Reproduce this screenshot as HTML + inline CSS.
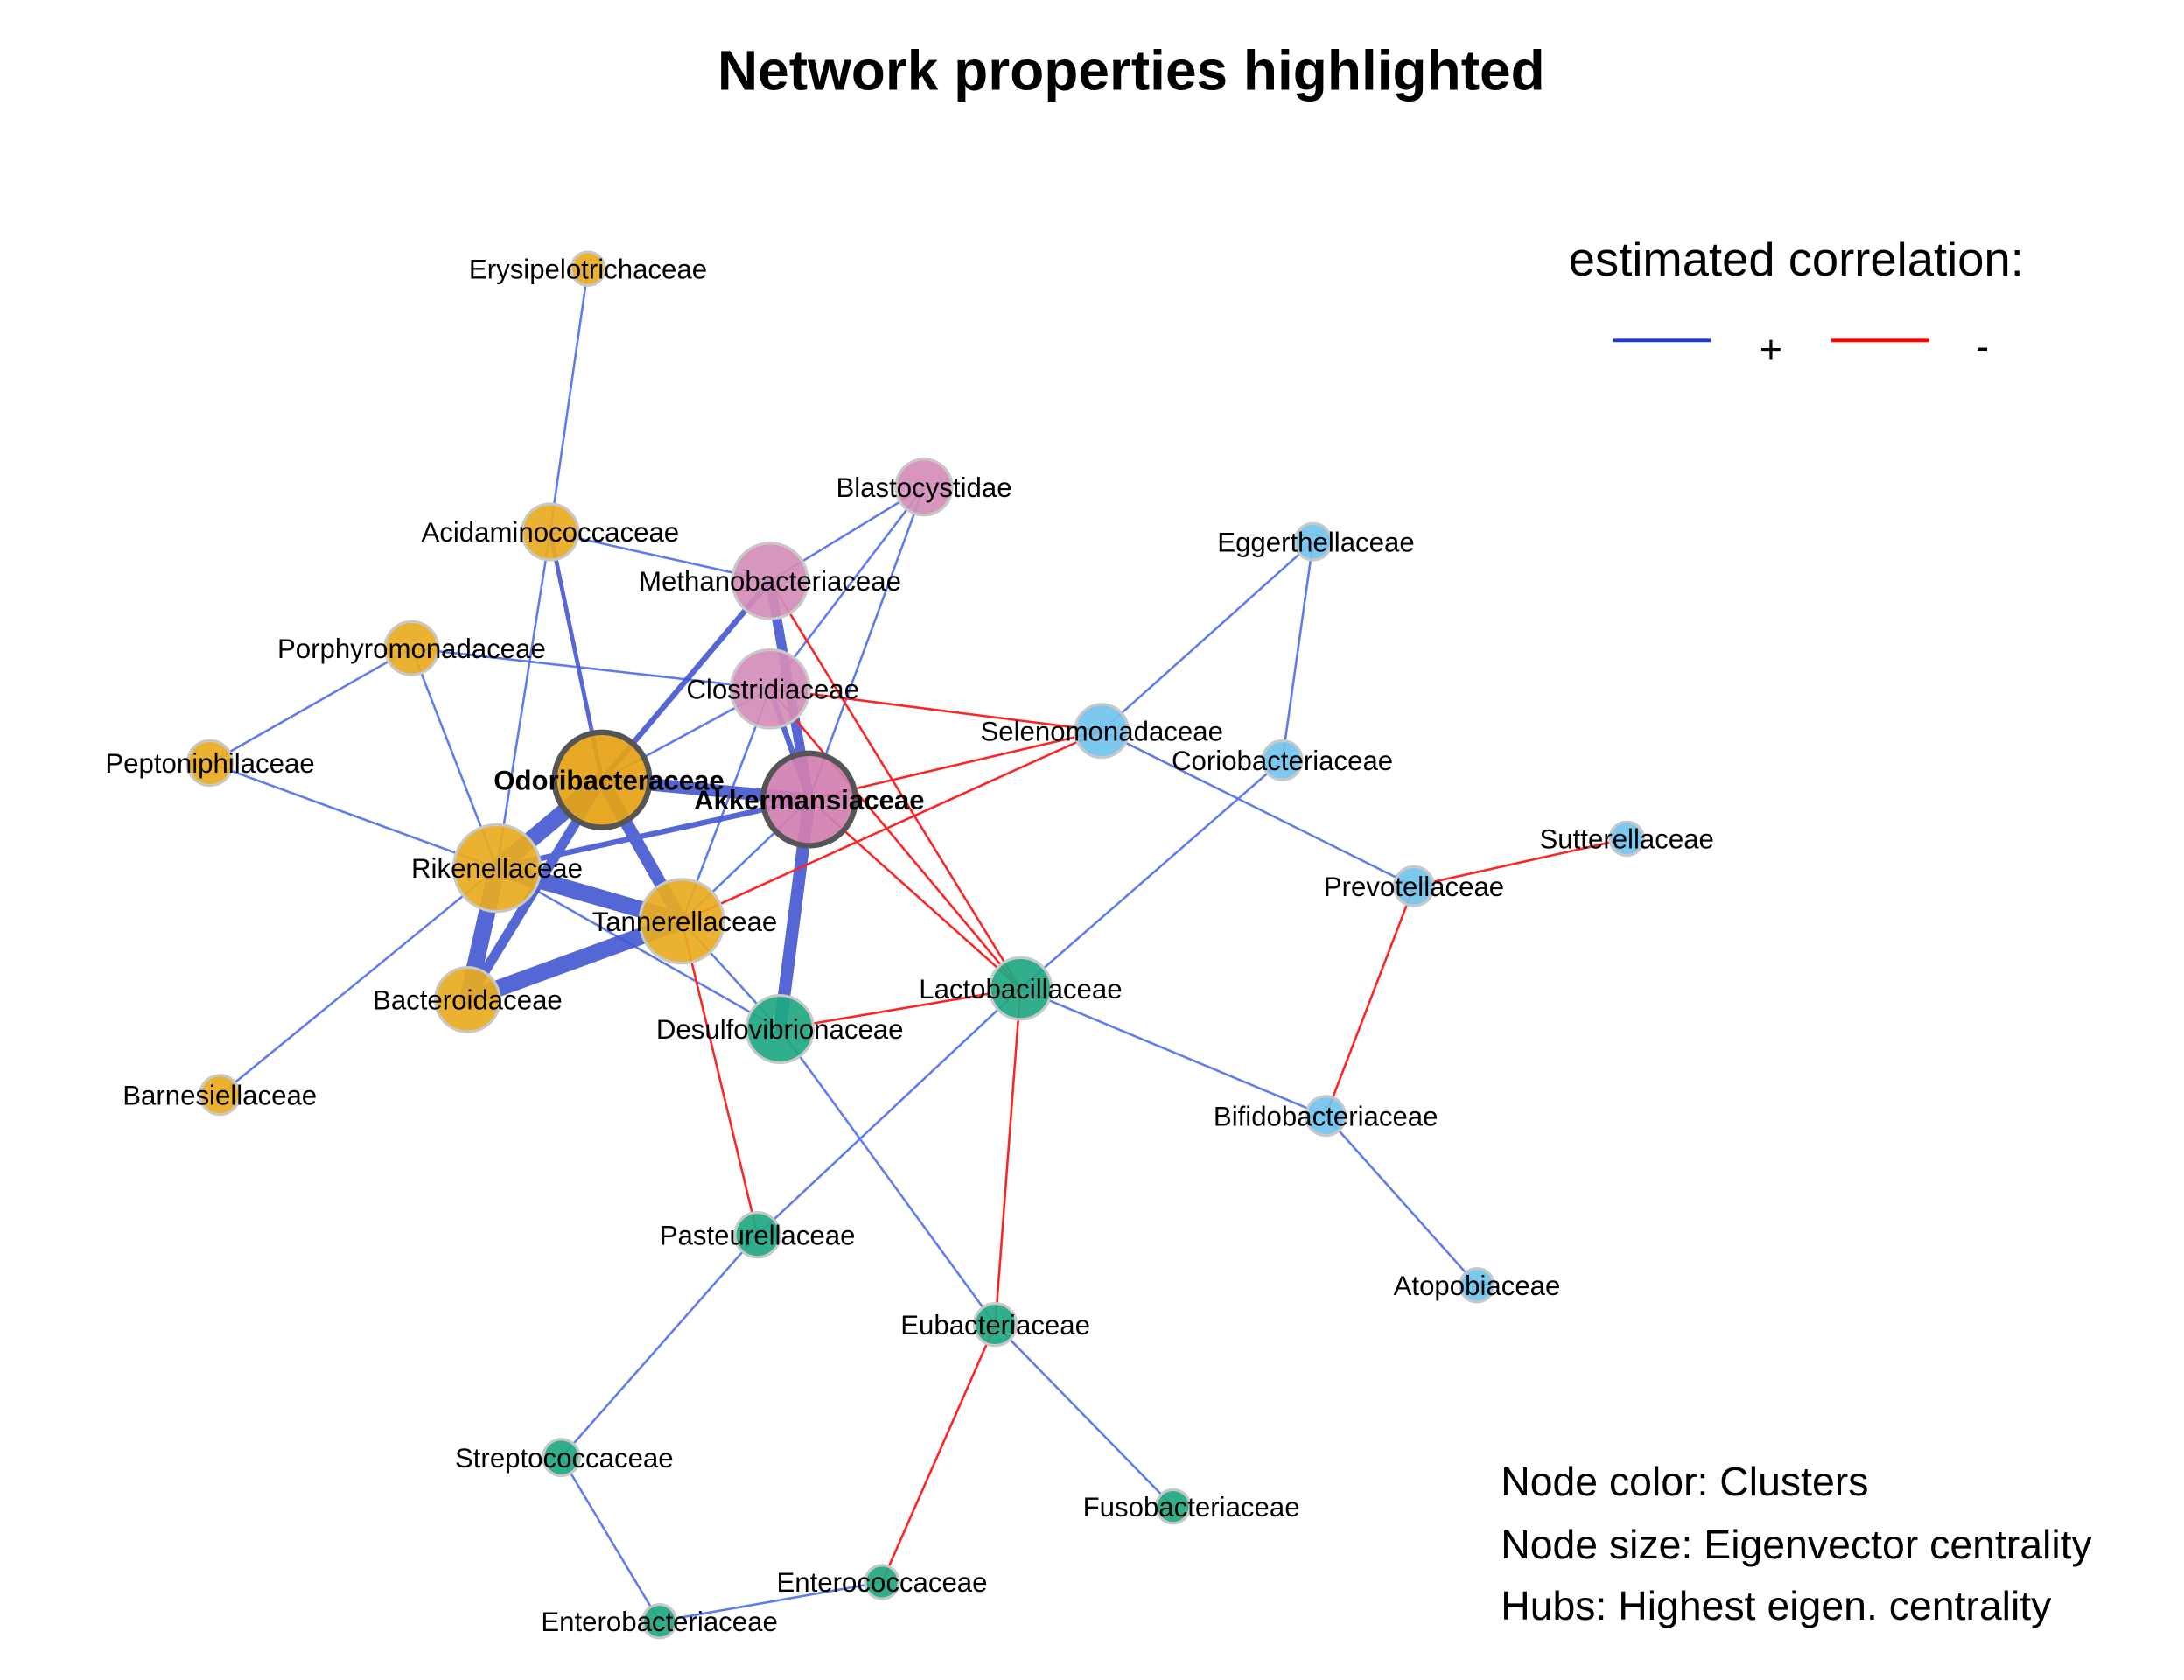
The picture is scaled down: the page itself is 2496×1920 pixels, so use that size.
<!DOCTYPE html>
<html><head><meta charset="utf-8"><style>
html,body{margin:0;padding:0;background:#fff;width:2496px;height:1920px;overflow:hidden}
text{font-family:"Liberation Sans",sans-serif}
</style></head><body>
<svg width="2496" height="1920" viewBox="0 0 1560 1200" xmlns="http://www.w3.org/2000/svg">
<rect width="1560" height="1200" fill="#fff"/>
<text x="808" y="64" font-size="40" font-weight="bold" text-anchor="middle">Network properties highlighted</text>
<text x="1283" y="197" font-size="34" text-anchor="middle">estimated correlation:</text>
<line x1="1152" y1="243" x2="1222" y2="243" stroke="#2238C8" stroke-width="3"/>
<text x="1265" y="259" font-size="28" text-anchor="middle">+</text>
<line x1="1308" y1="243" x2="1378" y2="243" stroke="#F00" stroke-width="3"/>
<text x="1416" y="257" font-size="28" text-anchor="middle">-</text>
<text x="1072" y="1068" font-size="29">Node color: Clusters</text>
<text x="1072" y="1113" font-size="29">Node size: Eigenvector centrality</text>
<text x="1072" y="1157" font-size="29">Hubs: Highest eigen. centrality</text>
<g stroke="#5E7BEF" stroke-width="1.6" fill="none">
<line x1="420" y1="192" x2="393" y2="380"/>
<line x1="393" y1="380" x2="550" y2="415"/>
<line x1="393" y1="380" x2="355" y2="620"/>
<line x1="294" y1="463" x2="150" y2="545"/>
<line x1="294" y1="463" x2="355" y2="620"/>
<line x1="294" y1="463" x2="550" y2="492"/>
<line x1="150" y1="545" x2="355" y2="620"/>
<line x1="355" y1="620" x2="157" y2="782"/>
<line x1="355" y1="620" x2="557" y2="735"/>
<line x1="430" y1="557" x2="550" y2="492"/>
<line x1="550" y1="492" x2="487" y2="658"/>
<line x1="660" y1="348" x2="550" y2="415"/>
<line x1="660" y1="348" x2="550" y2="492"/>
<line x1="660" y1="348" x2="578" y2="571"/>
<line x1="487" y1="658" x2="557" y2="735"/>
<line x1="578" y1="571" x2="487" y2="658"/>
<line x1="938" y1="387" x2="787" y2="522"/>
<line x1="938" y1="387" x2="916" y2="543"/>
<line x1="787" y1="522" x2="1010" y2="633"/>
<line x1="916" y1="543" x2="729" y2="706"/>
<line x1="729" y1="706" x2="541" y2="882"/>
<line x1="729" y1="706" x2="947" y2="797"/>
<line x1="947" y1="797" x2="1055" y2="918"/>
<line x1="557" y1="735" x2="711" y2="946"/>
<line x1="541" y1="882" x2="401" y2="1041"/>
<line x1="401" y1="1041" x2="471" y2="1158"/>
<line x1="711" y1="946" x2="838" y2="1076"/>
<line x1="630" y1="1130" x2="471" y2="1158"/>
</g>
<g stroke="#4257D0" stroke-linecap="round" opacity="0.9">
<line x1="393" y1="380" x2="430" y2="557" stroke-width="3"/>
<line x1="430" y1="557" x2="550" y2="415" stroke-width="4"/>
<line x1="355" y1="620" x2="578" y2="571" stroke-width="4"/>
<line x1="550" y1="492" x2="578" y2="571" stroke-width="4"/>
<line x1="550" y1="415" x2="578" y2="571" stroke-width="7"/>
<line x1="578" y1="571" x2="557" y2="735" stroke-width="9"/>
<line x1="430" y1="557" x2="578" y2="571" stroke-width="9"/>
<line x1="430" y1="557" x2="487" y2="658" stroke-width="9"/>
<line x1="430" y1="557" x2="355" y2="620" stroke-width="12"/>
<line x1="430" y1="557" x2="334" y2="714" stroke-width="7"/>
<line x1="355" y1="620" x2="334" y2="714" stroke-width="12"/>
<line x1="355" y1="620" x2="487" y2="658" stroke-width="12"/>
<line x1="334" y1="714" x2="487" y2="658" stroke-width="12"/>
</g>
<g stroke="#F22" stroke-width="1.6">
<line x1="550" y1="492" x2="787" y2="522"/>
<line x1="578" y1="571" x2="787" y2="522"/>
<line x1="487" y1="658" x2="787" y2="522"/>
<line x1="550" y1="415" x2="729" y2="706"/>
<line x1="550" y1="492" x2="729" y2="706"/>
<line x1="578" y1="571" x2="729" y2="706"/>
<line x1="557" y1="735" x2="729" y2="706"/>
<line x1="487" y1="658" x2="541" y2="882"/>
<line x1="729" y1="706" x2="711" y2="946"/>
<line x1="711" y1="946" x2="630" y2="1130"/>
<line x1="1010" y1="633" x2="1162" y2="599"/>
<line x1="1010" y1="633" x2="947" y2="797"/>
</g>
<g stroke="#C8C8C8" stroke-width="2" fill-opacity="0.92">
<circle cx="420" cy="192" r="12" fill="#E9AB1F"/>
<circle cx="393" cy="380" r="20" fill="#E9AB1F"/>
<circle cx="294" cy="463" r="19" fill="#E9AB1F"/>
<circle cx="150" cy="545" r="16" fill="#E9AB1F"/>
<circle cx="157" cy="782" r="14" fill="#E9AB1F"/>
<circle cx="334" cy="714" r="23" fill="#E9AB1F"/>
<circle cx="355" cy="620" r="31" fill="#E9AB1F"/>
<circle cx="487" cy="658" r="30" fill="#E9AB1F"/>
<circle cx="660" cy="348" r="20" fill="#D48DB8"/>
<circle cx="550" cy="415" r="27" fill="#D48DB8"/>
<circle cx="550" cy="492" r="28" fill="#D48DB8"/>
<circle cx="938" cy="387" r="13" fill="#72C3EE"/>
<circle cx="787" cy="522" r="19" fill="#72C3EE"/>
<circle cx="916" cy="543" r="14" fill="#72C3EE"/>
<circle cx="1162" cy="599" r="12" fill="#72C3EE"/>
<circle cx="1010" cy="633" r="14" fill="#72C3EE"/>
<circle cx="947" cy="797" r="14" fill="#72C3EE"/>
<circle cx="1055" cy="918" r="12" fill="#72C3EE"/>
<circle cx="729" cy="706" r="22" fill="#1FA882"/>
<circle cx="557" cy="735" r="24" fill="#1FA882"/>
<circle cx="541" cy="882" r="16" fill="#1FA882"/>
<circle cx="711" cy="946" r="15" fill="#1FA882"/>
<circle cx="401" cy="1041" r="13" fill="#1FA882"/>
<circle cx="838" cy="1076" r="12" fill="#1FA882"/>
<circle cx="630" cy="1130" r="12" fill="#1FA882"/>
<circle cx="471" cy="1158" r="12" fill="#1FA882"/>
<circle cx="430" cy="557" r="34" fill="#E6A313" stroke="#555" stroke-width="4"/>
<circle cx="578" cy="571" r="33" fill="#D17FB0" stroke="#555" stroke-width="4"/>
</g>
<g font-size="19.5" text-anchor="middle">
<text x="420" y="199">Erysipelotrichaceae</text>
<text x="393" y="387">Acidaminococcaceae</text>
<text x="294" y="470">Porphyromonadaceae</text>
<text x="150" y="552">Peptoniphilaceae</text>
<text x="157" y="789">Barnesiellaceae</text>
<text x="334" y="721">Bacteroidaceae</text>
<text x="355" y="627">Rikenellaceae</text>
<text x="489" y="665">Tannerellaceae</text>
<text x="660" y="355">Blastocystidae</text>
<text x="550" y="422">Methanobacteriaceae</text>
<text x="552" y="499">Clostridiaceae</text>
<text x="940" y="394">Eggerthellaceae</text>
<text x="787" y="529">Selenomonadaceae</text>
<text x="916" y="550">Coriobacteriaceae</text>
<text x="1162" y="606">Sutterellaceae</text>
<text x="1010" y="640">Prevotellaceae</text>
<text x="947" y="804">Bifidobacteriaceae</text>
<text x="1055" y="925">Atopobiaceae</text>
<text x="729" y="713">Lactobacillaceae</text>
<text x="557" y="742">Desulfovibrionaceae</text>
<text x="541" y="889">Pasteurellaceae</text>
<text x="711" y="953">Eubacteriaceae</text>
<text x="403" y="1048">Streptococcaceae</text>
<text x="851" y="1083">Fusobacteriaceae</text>
<text x="630" y="1137">Enterococcaceae</text>
<text x="471" y="1165">Enterobacteriaceae</text>
<text x="435" y="564" font-weight="bold">Odoribacteraceae</text>
<text x="578" y="578" font-weight="bold">Akkermansiaceae</text>
</g>
</svg>
</body></html>
